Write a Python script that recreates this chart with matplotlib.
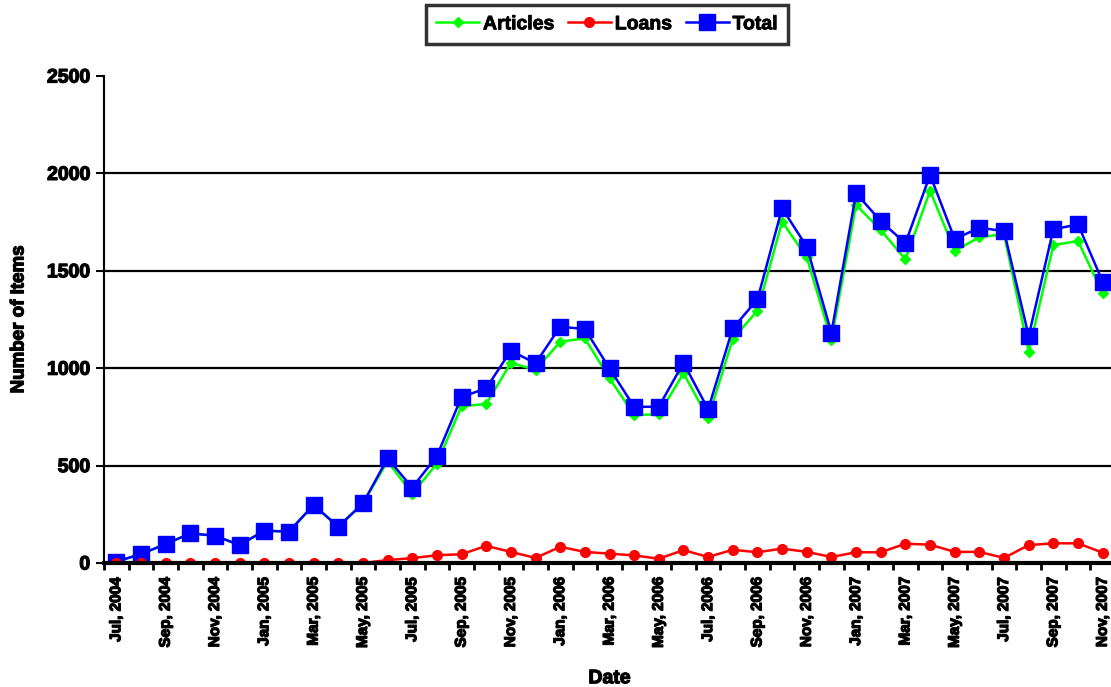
"""Monthly articles / loans / total items, Jul 2004 - Nov 2007."""
import matplotlib
matplotlib.use("Agg")
import matplotlib.pyplot as plt          # noqa: E402
import matplotlib.patheffects as pe      # noqa: E402
import numpy as np                       # noqa: E402

plt.rcParams["font.family"] = ["Liberation Sans", "DejaVu Sans"]
plt.rcParams["font.weight"] = "bold"

# monthly values (Jul 2004 .. Nov 2007, 41 months)
articles = [7, 46, 97, 152, 140, 92, 166, 161, 298, 186, 306, 522, 355, 510,
            805, 816, 1028, 991, 1136, 1153, 948, 760, 763, 974, 743, 1150,
            1295, 1752, 1569, 1145, 1838, 1709, 1559, 1911, 1603, 1672, 1689,
            1085, 1632, 1653, 1384]
loans = [0, 0, 0, 0, 0, 0, 0, 0, 0, 0, 0, 15, 25, 40, 45, 88, 57, 26, 83, 57,
         48, 39, 22, 66, 31, 68, 55, 74, 57, 31, 55, 55, 99, 94, 57, 57, 26,
         92, 101, 101, 53]
total = [7, 46, 97, 152, 140, 92, 166, 161, 298, 186, 306, 537, 387, 549,
         852, 897, 1090, 1025, 1213, 1201, 999, 802, 802, 1028, 789, 1205,
         1353, 1821, 1624, 1182, 1898, 1755, 1641, 1992, 1663, 1721, 1704,
         1165, 1713, 1738, 1444]
# every second month is labelled
date_labels = ["Jul, 2004", "Sep, 2004", "Nov, 2004", "Jan, 2005", "Mar, 2005",
               "May, 2005", "Jul, 2005", "Sep, 2005", "Nov, 2005", "Jan, 2006",
               "Mar, 2006", "May, 2006", "Jul, 2006", "Sep, 2006", "Nov, 2006",
               "Jan, 2007", "Mar, 2007", "May, 2007", "Jul, 2007", "Sep, 2007",
               "Nov, 2007"]
y_ticks = [0, 500, 1000, 1500, 2000, 2500]
grid_levels = [500, 1000, 1500, 2000]

x = np.arange(len(total))
heavy = [pe.withStroke(linewidth=0.9, foreground="black")]

fig = plt.figure(figsize=(11.11, 6.87), dpi=100)
ax = fig.add_axes([104 / 1111, 1 - 563 / 687, (1115 - 104) / 1111, (563 - 76) / 687])

for v in grid_levels:
    ax.axhline(v, color="black", lw=1.6, zorder=0.5)

ax.plot(x, articles, "-D", color="#00ff00", lw=1.8, ms=5.5, label="Articles",
        zorder=3)
ax.plot(x, loans, "-o", color="#ff0000", lw=1.8, ms=7, label="Loans",
        zorder=5)
ax.plot(x, total, "-s", color="#0000ff", lw=1.8, ms=11, label="Total",
        zorder=4)

ax.set_xlim(-0.5, len(total) - 0.5)
ax.set_ylim(0, 2500)
ax.set_yticks(y_ticks)
ax.set_yticklabels([str(v) for v in y_ticks], fontsize=14, fontweight="bold",
                   path_effects=heavy)
ax.tick_params(axis="y", direction="out", length=6, width=1.5, pad=4)

ax.set_xticks(x[::2])
ax.set_xticklabels(date_labels, rotation=90, fontsize=11, fontweight="bold",
                   path_effects=heavy)
ax.set_xticks(np.arange(-0.5, len(total)), minor=True)
ax.tick_params(axis="x", which="major", length=0, pad=10)
ax.tick_params(axis="x", which="minor", direction="out", length=5, width=2)

for s in ("top", "right"):
    ax.spines[s].set_visible(False)
ax.spines["left"].set_linewidth(1.5)
ax.spines["bottom"].set_linewidth(3)
ax.spines["bottom"].set_zorder(6)

ax.set_ylabel("Number of Items", fontsize=13.5, fontweight="bold", labelpad=14,
              path_effects=heavy)
ax.set_xlabel("Date", fontsize=14, fontweight="bold", labelpad=16,
              path_effects=heavy)

leg = fig.legend(loc="upper center", bbox_to_anchor=(607 / 1111, 1 - 5 / 687),
                 ncol=3, fontsize=14, frameon=True, fancybox=False,
                 edgecolor="black", borderpad=0.55, borderaxespad=0,
                 handlelength=2.2, handletextpad=0.2, columnspacing=0.7)
leg.get_frame().set_linewidth(2.5)
for t in leg.get_texts():
    t.set_fontweight("bold")
    t.set_path_effects([pe.withStroke(linewidth=0.6, foreground="black")])

fig.savefig("out.png", dpi=100)
